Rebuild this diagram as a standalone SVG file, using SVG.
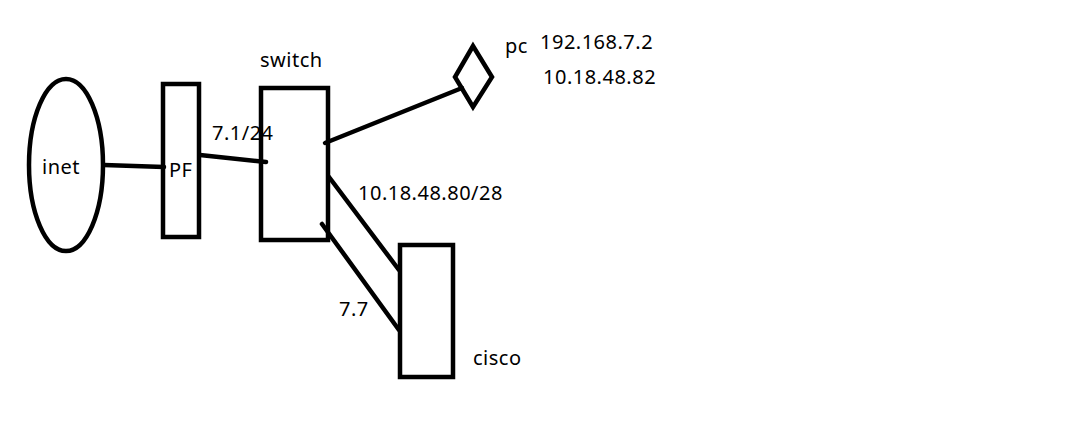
<svg xmlns="http://www.w3.org/2000/svg" width="1077" height="422" viewBox="0 0 1077 422">
<style>
.s{fill:none;stroke:#000;stroke-width:4.5}
.c{stroke:#000;stroke-width:4.5;stroke-linecap:round}
text{font-family:"Noto Sans","Open Sans",sans-serif;font-size:20px;letter-spacing:0.5px;fill:#000}
</style>
<rect width="1077" height="422" fill="#fff"/>
<g id="connectors">
<line class="c" x1="104" y1="165" x2="164" y2="167"/>
<line class="c" x1="200" y1="155" x2="266" y2="162"/>
<line class="c" x1="325" y1="143" x2="462" y2="88"/>
<line class="c" x1="329" y1="177" x2="399" y2="270"/>
<line class="c" x1="322" y1="224" x2="399" y2="330"/>
</g>
<g id="inet">
<ellipse class="s" cx="66" cy="165" rx="37" ry="86"/>
<text x="42" y="174">inet</text>
</g>
<g id="pf">
<rect class="s" x="163" y="84" width="36" height="153"/>
<text x="169" y="177">PF</text>
</g>
<text x="212" y="140">7.1/24</text>
<g id="switch">
<rect class="s" x="261" y="88" width="67" height="152"/>
<text x="260" y="67">switch</text>
</g>
<g id="pc">
<polygon class="s" points="473,46 492,77 473,107 455,77"/>
<text x="505" y="53">pc</text>
<text x="540" y="49">192.168.7.2</text>
<text x="543" y="84">10.18.48.82</text>
</g>
<text x="358" y="200">10.18.48.80/28</text>
<g id="cisco">
<rect class="s" x="400" y="245" width="53" height="132"/>
<text x="473" y="365">cisco</text>
</g>
<text x="339" y="316">7.7</text>
</svg>
